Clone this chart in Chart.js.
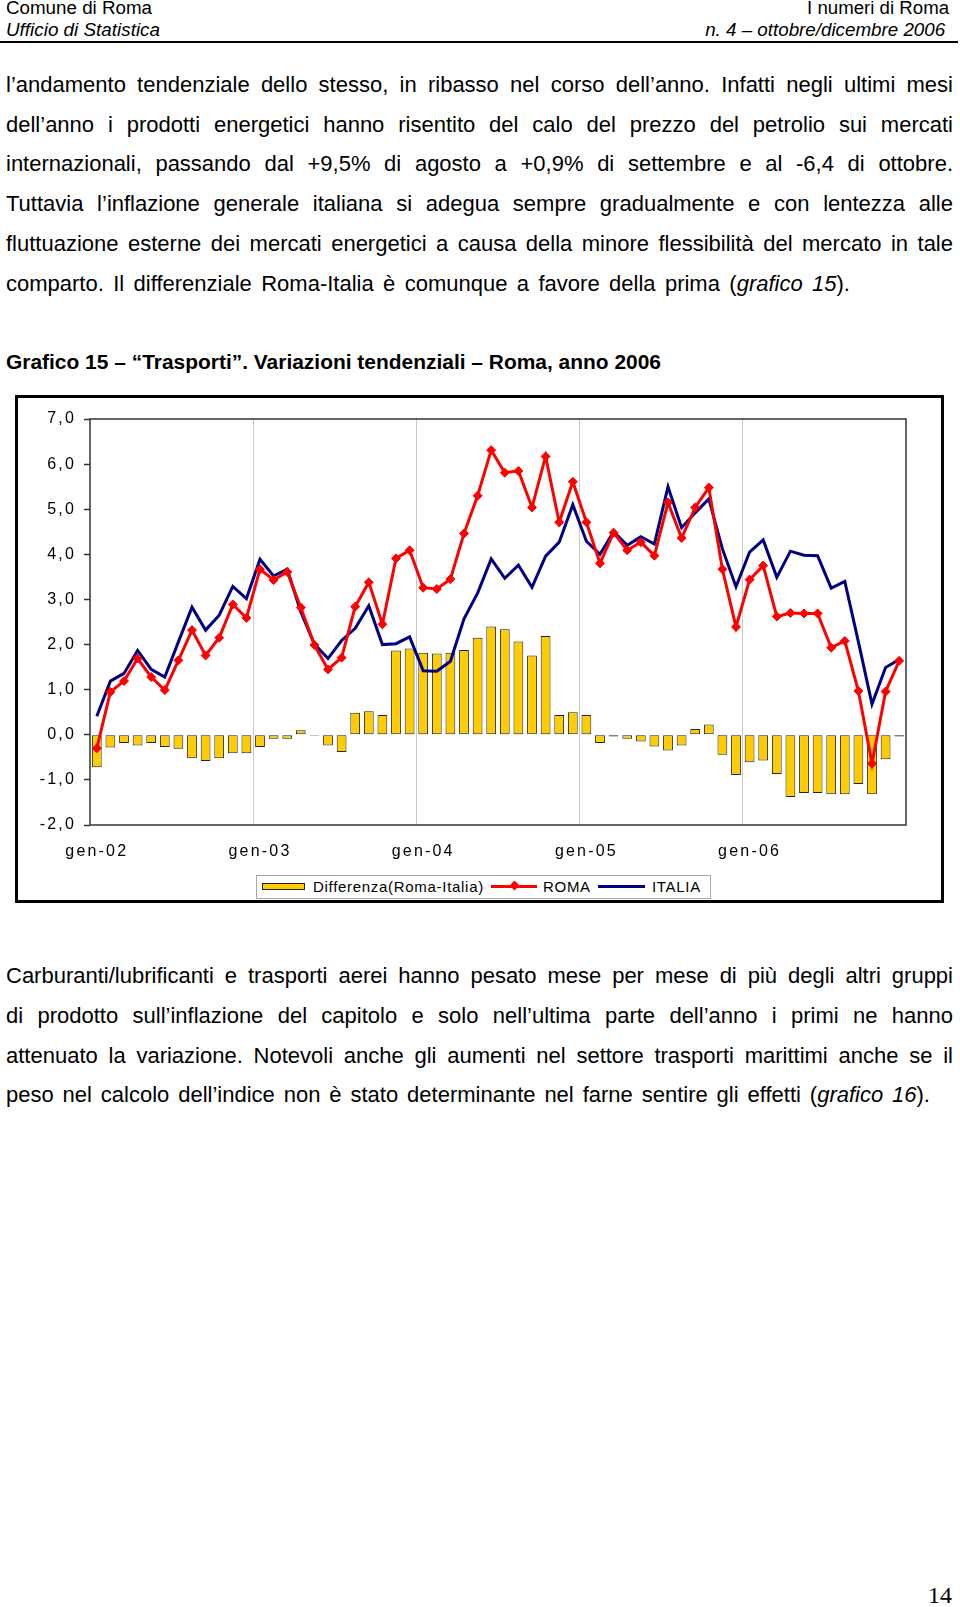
<!DOCTYPE html>
<html><head><meta charset="utf-8">
<script src="https://cdn.jsdelivr.net/npm/chart.js@4.4.1/dist/chart.umd.min.js"></script>
<style>
html,body{margin:0;padding:0;background:#fff;}
body{width:960px;height:1607px;position:relative;overflow:hidden;font-family:"Liberation Sans",Arial,sans-serif;color:#000;}
.t{position:absolute;white-space:nowrap;line-height:24px;}
.hdr{font-size:18px;line-height:22px;}
.it{font-style:italic;}
.rule{position:absolute;left:0;top:41px;width:958px;height:2px;background:#000;}
.ln{left:6px;font-size:22px;}
.title{left:6px;font-size:20px;font-weight:bold;transform-origin:left center;}
#frame{position:absolute;left:15px;top:395px;width:923px;height:502px;border:3px solid #000;}
#chart{position:absolute;left:0;top:0;}
#legend{position:absolute;left:256px;top:875px;width:453px;height:22px;border:1px solid #a8a8a8;background:#fff;font-size:15px;letter-spacing:0.7px;}
#legend .lab{position:absolute;top:0;line-height:22px;white-space:nowrap;}
#legend .sw{position:absolute;}
.pg{position:absolute;left:928px;top:1582px;font-family:"Liberation Serif",serif;font-size:24px;line-height:26px;}
</style></head>
<body>
<div class="t hdr" data-sx="146" style="left:6px;top:-3px;transform-origin:left center;">Comune di Roma</div>
<div class="t hdr it" data-sx="154" style="left:6px;top:19px;transform-origin:left center;">Ufficio di Statistica</div>
<div class="t hdr" data-sx="142" data-right="949" style="top:-3px;transform-origin:right center;">I numeri di Roma</div>
<div class="t hdr it" data-sx="240" data-right="945" style="top:19px;transform-origin:right center;">n. 4 – ottobre/dicembre 2006</div>
<div class="rule"></div>

<div class="t ln" data-w="947" style="top:73px">l’andamento tendenziale dello stesso, in ribasso nel corso dell’anno. Infatti negli ultimi mesi</div>
<div class="t ln" data-w="947" style="top:113px">dell’anno i prodotti energetici hanno risentito del calo del prezzo del petrolio sui mercati</div>
<div class="t ln" data-w="947" style="top:152px">internazionali, passando dal +9,5% di agosto a +0,9% di settembre e al -6,4 di ottobre.</div>
<div class="t ln" data-w="947" style="top:192px">Tuttavia l’inflazione generale italiana si adegua sempre gradualmente e con lentezza alle</div>
<div class="t ln" data-w="947" style="top:232px">fluttuazione esterne dei mercati energetici a causa della minore flessibilità del mercato in tale</div>
<div class="t ln" data-w="844" style="top:272px">comparto. Il differenziale Roma-Italia è comunque a favore della prima (<i>grafico 15</i>).</div>

<div class="t title" data-sx="655" style="top:350px">Grafico 15 – “Trasporti”. Variazioni tendenziali – Roma, anno 2006</div>

<div id="frame"><canvas id="chart" width="923" height="502"></canvas></div>

<div id="legend">
  <span class="sw" style="left:5px;top:7px;width:41px;height:5px;background:#FFCC00;border:1px solid #222;"></span>
  <span class="lab" style="left:56px;">Differenza(Roma-Italia)</span>
  <span class="sw" style="left:234px;top:9px;width:46px;height:3px;background:#FF0000;"></span>
  <span class="sw" style="left:254px;top:6px;width:7px;height:7px;background:#FF0000;transform:rotate(45deg);"></span>
  <span class="lab" style="left:286px;">ROMA</span>
  <span class="sw" style="left:341px;top:9px;width:47px;height:3px;background:#000080;"></span>
  <span class="lab" style="left:395px;">ITALIA</span>
</div>

<div class="t ln" data-w="947" style="top:964px">Carburanti/lubrificanti e trasporti aerei hanno pesato mese per mese di più degli altri gruppi</div>
<div class="t ln" data-w="947" style="top:1004px">di prodotto sull’inflazione del capitolo e solo nell’ultima parte dell’anno i primi ne hanno</div>
<div class="t ln" data-w="947" style="top:1044px">attenuato la variazione. Notevoli anche gli aumenti nel settore trasporti marittimi anche se il</div>
<div class="t ln" data-w="924" style="top:1083px">peso nel calcolo dell’indice non è stato determinante nel farne sentire gli effetti (<i>grafico 16</i>).</div>

<div class="pg">14</div>

<script>
const months = [
 'gen-02','feb-02','mar-02','apr-02','mag-02','giu-02','lug-02','ago-02','set-02','ott-02','nov-02','dic-02',
 'gen-03','feb-03','mar-03','apr-03','mag-03','giu-03','lug-03','ago-03','set-03','ott-03','nov-03','dic-03',
 'gen-04','feb-04','mar-04','apr-04','mag-04','giu-04','lug-04','ago-04','set-04','ott-04','nov-04','dic-04',
 'gen-05','feb-05','mar-05','apr-05','mag-05','giu-05','lug-05','ago-05','set-05','ott-05','nov-05','dic-05',
 'gen-06','feb-06','mar-06','apr-06','mag-06','giu-06','lug-06','ago-06','set-06','ott-06','nov-06','dic-06'
];
const roma = [
 -0.30,0.95,1.19,1.69,1.28,0.99,1.65,2.32,1.76,2.15,2.89,2.59,
 3.67,3.43,3.61,2.82,1.99,1.45,1.71,2.84,3.38,2.45,3.91,4.09,
 3.26,3.23,3.45,4.46,5.30,6.31,5.81,5.85,5.04,6.17,4.71,5.61,
 4.71,3.80,4.48,4.09,4.27,3.97,5.15,4.36,5.04,5.48,3.67,2.39,
 3.44,3.75,2.62,2.70,2.69,2.69,1.93,2.08,0.97,-0.64,0.96,1.64
];
const italia = [
 0.41,1.19,1.36,1.87,1.45,1.28,2.06,2.83,2.32,2.65,3.29,3.02,
 3.89,3.52,3.67,2.72,2.01,1.69,2.09,2.36,2.86,2.00,2.02,2.17,
 1.42,1.41,1.63,2.57,3.14,3.90,3.47,3.76,3.27,3.96,4.27,5.10,
 4.29,4.00,4.50,4.20,4.39,4.23,5.50,4.59,4.92,5.23,4.12,3.28,
 4.05,4.32,3.49,4.07,3.98,3.97,3.25,3.40,2.06,0.68,1.49,1.67
];
const differenza = [
 -0.72,-0.28,-0.18,-0.24,-0.18,-0.27,-0.31,-0.52,-0.58,-0.52,-0.41,-0.41,
 -0.27,-0.09,-0.09,0.10,-0.02,-0.24,-0.38,0.49,0.52,0.44,1.87,1.91,
 1.82,1.80,1.82,1.88,2.15,2.40,2.34,2.07,1.76,2.19,0.44,0.50,
 0.44,-0.18,-0.04,-0.09,-0.15,-0.26,-0.35,-0.24,0.13,0.23,-0.44,-0.89,
 -0.61,-0.57,-0.87,-1.38,-1.29,-1.29,-1.32,-1.32,-1.09,-1.32,-0.54,-0.04
];
const yTicks = [-2,-1,0,1,2,3,4,5,6,7];

// text fitting (layout only)
document.querySelectorAll('[data-w]').forEach(el=>{
  const target = +el.dataset.w;
  const w = el.getBoundingClientRect().width;
  const n = (el.textContent.match(/ /g)||[]).length;
  if (n) el.style.wordSpacing = ((target - w)/n) + 'px';
});
document.querySelectorAll('[data-sx]').forEach(el=>{
  const target = +el.dataset.sx;
  const w = el.getBoundingClientRect().width;
  if (el.dataset.right) el.style.left = (+el.dataset.right - w) + 'px';
  el.style.transform = 'scaleX(' + (target / w) + ')';
});

const LS = '2.2px';
const spacingPlugin = {
  id:'spacing',
  beforeLayout(c){ c.ctx.letterSpacing = LS; },
  beforeDraw(c){ c.ctx.letterSpacing = LS; }
};
const framePlugin = {
  id:'plotframe',
  afterDraw(c){
    const a = c.chartArea, ctx = c.ctx;
    ctx.save();
    ctx.strokeStyle = '#333';
    ctx.lineWidth = 1.5;
    ctx.strokeRect(a.left, a.top, a.right - a.left, a.bottom - a.top);
    ctx.restore();
  }
};
const tickFont = {family:'"Liberation Sans", Arial, sans-serif', size:16};

new Chart(document.getElementById('chart'), {
  data:{
    labels: months,
    datasets:[
      {type:'bar', label:'Differenza(Roma-Italia)', data:differenza, backgroundColor:'#FFCC00',
       borderColor:'#222', borderWidth:1, borderSkipped:false, barPercentage:0.72, categoryPercentage:1, order:3},
      {type:'line', label:'ROMA', data:roma, borderColor:'#FF0000', borderWidth:3, tension:0,
       pointStyle:'rectRot', pointRadius:4.5, pointBackgroundColor:'#FF0000', pointBorderColor:'#FF0000',
       pointBorderWidth:1, order:1},
      {type:'line', label:'ITALIA', data:italia, borderColor:'#000080', borderWidth:3, tension:0,
       pointRadius:0, order:2}
    ]
  },
  options:{
    responsive:false, animation:false, devicePixelRatio:1,
    layout:{padding:{left:0, top:21, right:35, bottom:0}},
    plugins:{legend:{display:false}, tooltip:{enabled:false}},
    scales:{
      x:{
        type:'category', offset:true,
        grid:{offset:true, drawTicks:false, lineWidth:1,
              color:(c)=> (c.index % 12 === 0 && c.index > 0 && c.index < 60) ? '#c8c8c8' : 'rgba(0,0,0,0)'},
        border:{display:false},
        ticks:{autoSkip:false, maxRotation:0, minRotation:0, padding:17, color:'#000', font:tickFont,
               callback:(v,i)=> (i % 12 === 0) ? months[i] : ''},
        afterFit:(s)=>{ s.height = 75; }
      },
      y:{
        min:-2, max:7,
        afterBuildTicks:(s)=>{ s.ticks = yTicks.map(v=>({value:v})); },
        ticks:{padding:8, color:'#000', font:tickFont, callback:(v)=> v.toFixed(1).replace('.', ',')},
        grid:{drawOnChartArea:false, drawTicks:true, tickLength:6, tickColor:'#333', tickWidth:1.5},
        border:{display:false},
        afterFit:(s)=>{ s.width = 72; }
      }
    }
  },
  plugins:[spacingPlugin, framePlugin]
});
</script>
</body></html>
